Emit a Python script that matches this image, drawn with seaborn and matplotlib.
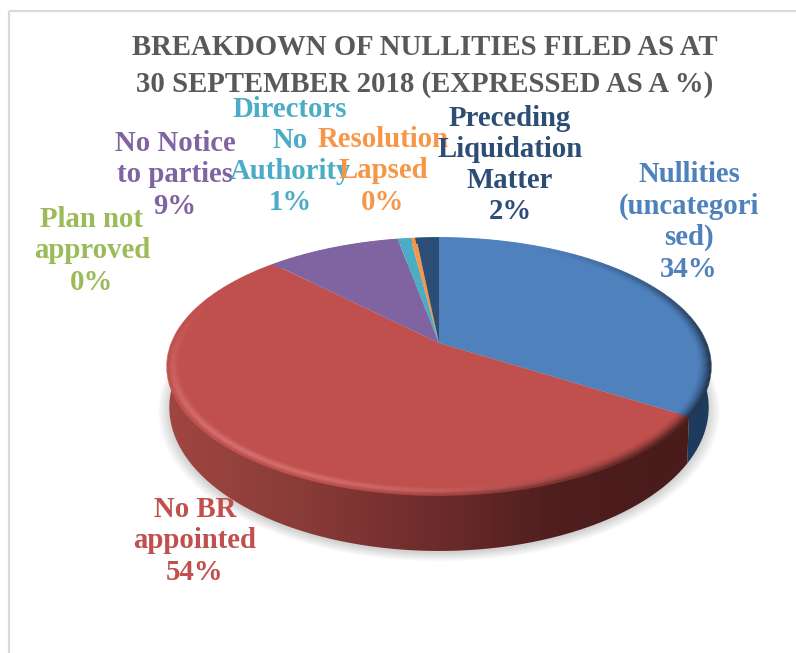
import numpy as np
import pandas as pd
import seaborn as sns
import matplotlib
matplotlib.use("Agg")
import matplotlib.pyplot as plt
from matplotlib.transforms import Transform
from matplotlib.collections import LineCollection
from matplotlib.colors import LinearSegmentedColormap, to_rgb
from matplotlib.patches import Circle, Rectangle, PathPatch
from matplotlib.path import Path

# ---- data ----
categories = ["Nullities\n(uncategori\nsed)", "No BR\nappointed", "Plan not\napproved",
              "No Notice\nto parties", "Directors\nNo\nAuthority", "Resolution\nLapsed",
              "Preceding\nLiquidation\nMatter"]
values = [34.0, 53.7, 0.0, 9.4, 0.9, 0.4, 1.6]
shown_percent = ["34%", "54%", "0%", "9%", "1%", "0%", "2%"]
slice_colors = ["#4f81bd", "#c0504d", "#9bbb59", "#8064a2", "#4bacc6", "#f79646", "#2c4d75"]
title_text = "BREAKDOWN OF NULLITIES FILED AS AT\n30 SEPTEMBER 2018 (EXPRESSED AS A %)"

# ---- layout (pixels) ----
label_xy = [(689, 222), (195, 541), (92, 251), (175, 175), (290, 156), (383, 171), (510, 165)]

df = pd.DataFrame({"category": categories, "value": values, "pct": shown_percent})
palette = sns.color_palette(slice_colors)

sns.set_theme(style="white")
plt.rcParams["font.family"] = ["Liberation Serif", "DejaVu Serif"]


class Tilt(Transform):
    """Perspective view of the flat unit disc, to pixels."""
    input_dims = 2
    output_dims = 2
    is_separable = False
    has_inverse = False

    def __init__(self, zx=1.0, zy=1.0, drop=0.0):
        super().__init__()
        self.zx, self.zy, self.drop = zx, zy, drop

    def transform_non_affine(self, xy):
        xy = np.asarray(xy, float)
        den = 1 + 0.183 * xy[:, 1]
        return np.column_stack([439 + 267 * self.zx * xy[:, 0] / den,
                                343 - 124 * self.zy * xy[:, 1] / den + self.drop])


fig = plt.figure(figsize=(7.96, 6.53), dpi=100, facecolor="white")
ax = fig.add_axes([0, 0, 1, 1])

top = Tilt()
bottom = Tilt(zx=0.993, zy=1.12, drop=38)

wedges, _ = ax.pie(df["value"], colors=palette, startangle=90, counterclock=False,
                   radius=1, center=(0, 0), wedgeprops={"linewidth": 0})
ax.set_aspect("auto")
ax.set_xlim(0, 796)
ax.set_ylim(653, 0)
ax.axis("off")
ax.set_frame_on(False)
for w, v in zip(wedges, values):
    w.set_transform(top + ax.transData)
    w.set_zorder(5)
    w.set_visible(v > 0)

# frame running off the picture at right and bottom
ax.add_patch(Rectangle((9, 11), 1200, 1200, fill=False, ec="#d9d9d9", lw=1.6, zorder=1))

# soft shadow
for r in np.linspace(1.0, 1.04, 9):
    ax.add_patch(Circle((0, 0), r, fc="#000000", ec="none", alpha=0.018, zorder=2,
                        transform=Tilt(zx=0.993, zy=1.12, drop=40) + ax.transData))

# side walls: angles derive from the slice values
cum = np.cumsum(df["value"].to_numpy()) / df["value"].sum() * 2 * np.pi


def wall(t0, t1):
    t = np.linspace(t0, t1, 300)
    pts = np.column_stack([np.sin(t), np.cos(t)])
    a = top.transform_non_affine(pts)
    b = bottom.transform_non_affine(pts)
    return Path(np.vstack([a, b[::-1], a[:1]]))


red_wall = wall(cum[0], cum[1])
blue_wall = wall(np.radians(50), cum[0])
red_cmap = LinearSegmentedColormap.from_list("r", ["#a04641", "#8a3c38", "#6f2c2c", "#4f1e1e", "#491b1b"])
blue_cmap = LinearSegmentedColormap.from_list("b", ["#1c3a5a", "#1e3d5e"])
grad = np.linspace(0, 1, 256)[None, :]
for path, cmap, z in ((blue_wall, blue_cmap, 3), (red_wall, red_cmap, 4)):
    im = ax.imshow(grad, cmap=cmap, extent=(165, 690, 560, 300), aspect="auto", zorder=z)
    if cmap is blue_cmap:
        im.set_extent((660, 720, 560, 300))
    clip = PathPatch(path, transform=ax.transData, fc="none", ec="none")
    ax.add_patch(clip)
    im.set_clip_path(clip)
ax.set_xlim(0, 796)
ax.set_ylim(653, 0)

# bevelled rim
theta = np.linspace(0, 2 * np.pi, 721)
mid = 0.5 * (theta[:-1] + theta[1:])
idx = np.searchsorted(cum, mid).clip(0, len(values) - 1)
base = np.array([to_rgb(c) for c in slice_colors])[idx]
facing = np.clip(-np.cos(mid - np.radians(20)) + 0.05, 0, 1)      # strength toward the viewer
light = np.clip(np.cos(mid - np.radians(235)), 0, 1)              # lit from lower left
shade = np.clip(np.cos(mid - np.radians(112)), 0, 1) ** 1.5       # dark toward lower right
for u in np.linspace(0, 1, 12):
    r = 0.955 + 0.045 * u
    seg = np.stack([np.column_stack([np.sin(theta[:-1]), np.cos(theta[:-1])]) * r,
                    np.column_stack([np.sin(theta[1:]), np.cos(theta[1:])]) * r], axis=1)
    hi = light * facing * np.sin(np.pi * u ** 1.3) ** 1.5 * 0.32
    lo = shade * u ** 1.5 * 0.6
    cols = base * (1 - lo[:, None])
    cols = cols + (np.array([1.0, 0.72, 0.72]) - cols) * hi[:, None]
    lc = LineCollection(seg, colors=np.clip(cols, 0, 1), linewidths=1.5, zorder=6,
                        transform=top + ax.transData, capstyle="butt")
    ax.add_collection(lc, autolim=False)

# texts
ax.text(425, 66, title_text, ha="center", va="center", multialignment="center",
        fontsize=20.7, fontweight="bold", color="#595959", linespacing=1.5, zorder=9)
for (x, y), name, pct, col in zip(label_xy, df["category"], df["pct"], slice_colors):
    ax.text(x, y, f"{name}\n{pct}", ha="center", va="center", multialignment="center",
            fontsize=20.7, fontweight="bold", color=col, linespacing=1.2, zorder=9)

fig.savefig("out.png", dpi=100, facecolor="white")
